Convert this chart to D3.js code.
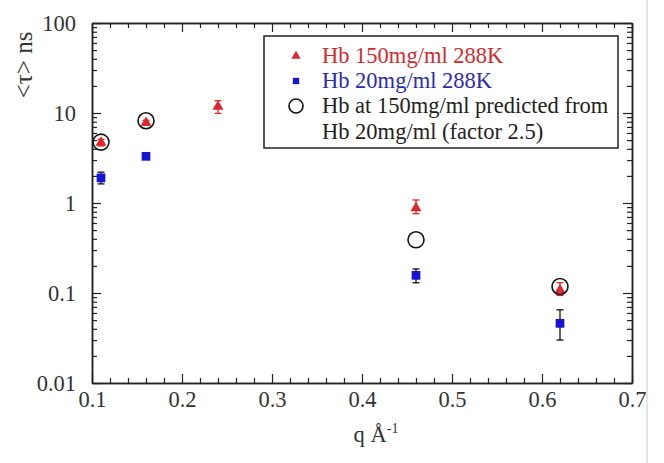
<!DOCTYPE html>
<html><head><meta charset="utf-8">
<script src="https://cdn.jsdelivr.net/npm/d3@7"></script>
<style>body{margin:0;background:#fff}</style>
</head><body>
<script>
// Data
const qRed = [0.11, 0.16, 0.24, 0.46, 0.62];
const tauRed = [4.7, 7.8, 11.8, 0.88, 0.108];
const errRedLo = [0.4, 0.5, 1.9, 0.12, 0.014];
const errRedHi = [0.4, 0.5, 1.9, 0.2, 0.022];
const qBlue = [0.11, 0.16, 0.46, 0.62];
const tauBlue = [1.9, 3.3, 0.157, 0.046];
const errBlueLo = [0.27, 0.15, 0.027, 0.016];
const errBlueHi = [0.3, 0.15, 0.028, 0.019];
const qPred = [0.11, 0.16, 0.46, 0.62];
const tauPred = [4.75, 8.2, 0.39, 0.118];
const xTicks = [0.1, 0.2, 0.3, 0.4, 0.5, 0.6, 0.7];
const yTicks = [0.01, 0.1, 1, 10, 100];
const yTickLabels = ["0.01", "0.1", "1", "10", "100"];
const legendLabels = ["Hb 150mg/ml 288K", "Hb 20mg/ml 288K", "Hb at 150mg/ml predicted from", "Hb 20mg/ml (factor 2.5)"];

const W = 664, H = 463;
const L = 92, R = 632, T = 23, B = 383;
const red = "#e0262a", blue = "#1414d2";
const font = "'Liberation Serif','Times New Roman',serif";

const svg = d3.select("body").append("svg").attr("width", W).attr("height", H)
  .style("font-family", font);

const x = d3.scaleLinear().domain([0.1, 0.7]).range([L, R]);
const y = d3.scaleLog().domain([0.01, 100]).range([B, T]);

const minorX = d3.range(0.1, 0.7001, 0.02).map(v => +v.toFixed(2)).filter(v => !xTicks.some(t => Math.abs(t - v) < 1e-6));
const minorY = [];
[0.01, 0.1, 1, 10].forEach(d => { for (let k = 2; k <= 9; k++) minorY.push(d * k); });

function styleAxis(g) {
  g.select(".domain").attr("stroke", "#222").attr("stroke-width", 1.5);
  g.selectAll(".tick line").attr("stroke", "#222").attr("stroke-width", 1.2);
  g.selectAll(".tick text").attr("fill", "#333").style("font-size", "22.5px").style("font-family", font);
}

// bottom axis
svg.append("g").attr("transform", `translate(0,${B})`)
  .call(d3.axisBottom(x).tickValues(xTicks).tickFormat(d3.format(".1f")).tickSizeInner(-9).tickSizeOuter(0).tickPadding(8))
  .call(styleAxis);
svg.append("g").attr("transform", `translate(0,${B})`)
  .call(d3.axisBottom(x).tickValues(minorX).tickFormat("").tickSizeInner(-5).tickSizeOuter(0))
  .call(styleAxis);
// top axis
svg.append("g").attr("transform", `translate(0,${T})`)
  .call(d3.axisTop(x).tickValues(xTicks).tickFormat("").tickSizeInner(-9).tickSizeOuter(0))
  .call(styleAxis);
svg.append("g").attr("transform", `translate(0,${T})`)
  .call(d3.axisTop(x).tickValues(minorX).tickFormat("").tickSizeInner(-5).tickSizeOuter(0))
  .call(styleAxis);
// left axis
svg.append("g").attr("transform", `translate(${L},0)`)
  .call(d3.axisLeft(y).tickValues(yTicks).tickFormat((d, i) => yTickLabels[i]).tickSizeInner(-9).tickSizeOuter(0).tickPadding(16))
  .call(styleAxis);
svg.append("g").attr("transform", `translate(${L},0)`)
  .call(d3.axisLeft(y).tickValues(minorY).tickFormat("").tickSizeInner(-5).tickSizeOuter(0))
  .call(styleAxis);
// right axis
svg.append("g").attr("transform", `translate(${R},0)`)
  .call(d3.axisRight(y).tickValues(yTicks).tickFormat("").tickSizeInner(-9).tickSizeOuter(0))
  .call(styleAxis);
svg.append("g").attr("transform", `translate(${R},0)`)
  .call(d3.axisRight(y).tickValues(minorY).tickFormat("").tickSizeInner(-5).tickSizeOuter(0))
  .call(styleAxis);

// faint right border of the original image
svg.append("line").attr("x1", 647).attr("x2", 647).attr("y1", 0).attr("y2", H)
  .attr("stroke", "#e4e4e4").attr("stroke-width", 2);

// axis titles
const xt = svg.append("text").attr("x", 376).attr("y", 442).attr("text-anchor", "middle")
  .style("font-size", "22.5px").attr("fill", "#333");
xt.append("tspan").text("q Å");
xt.append("tspan").attr("dy", -9).style("font-size", "14px").text("-1");

svg.append("text").attr("transform", "translate(32,65) rotate(-90)").attr("text-anchor", "middle")
  .style("font-size", "25px").attr("fill", "#333").text("<τ> ns");

function errorBars(qs, vals, lo, hi, color) {
  const g = svg.append("g").attr("stroke", color).attr("stroke-width", 1.3);
  qs.forEach((q, i) => {
    const cx = x(q), y1 = y(vals[i] + hi[i]), y2 = y(vals[i] - lo[i]);
    g.append("line").attr("x1", cx).attr("x2", cx).attr("y1", y1).attr("y2", y2);
    g.append("line").attr("x1", cx - 3.5).attr("x2", cx + 3.5).attr("y1", y1).attr("y2", y1);
    g.append("line").attr("x1", cx - 3.5).attr("x2", cx + 3.5).attr("y1", y2).attr("y2", y2);
  });
}

errorBars(qBlue, tauBlue, errBlueLo, errBlueHi, "#111");
errorBars(qRed, tauRed, errRedLo, errRedHi, red);

const tri = d3.symbol().type(d3.symbolTriangle).size(52);
const sq = d3.symbol().type(d3.symbolSquare).size(76);

svg.append("g").selectAll("path").data(qBlue).join("path")
  .attr("d", sq).attr("fill", blue)
  .attr("transform", (d, i) => `translate(${x(d)},${y(tauBlue[i])})`);
svg.append("g").selectAll("path").data(qRed).join("path")
  .attr("d", tri).attr("fill", red)
  .attr("transform", (d, i) => `translate(${x(d)},${y(tauRed[i])})`);
svg.append("g").selectAll("circle").data(qPred).join("circle")
  .attr("cx", d => x(d)).attr("cy", (d, i) => y(tauPred[i])).attr("r", 8)
  .attr("fill", "none").attr("stroke", "#111").attr("stroke-width", 1.6);

// legend
const lg = svg.append("g");
lg.append("rect").attr("x", 264).attr("y", 36).attr("width", 354).attr("height", 112)
  .attr("fill", "#fff").attr("stroke", "#222").attr("stroke-width", 1.5);
const rows = [56, 81, 106, 132];
lg.append("path").attr("d", d3.symbol().type(d3.symbolTriangle).size(36))
  .attr("transform", `translate(296,${rows[0]})`).attr("fill", red);
lg.append("path").attr("d", d3.symbol().type(d3.symbolSquare).size(40))
  .attr("transform", `translate(296,${rows[1]})`).attr("fill", blue);
lg.append("circle").attr("cx", 296).attr("cy", rows[2]).attr("r", 7)
  .attr("fill", "none").attr("stroke", "#111").attr("stroke-width", 1.6);
const colors = ["#d42a2e", "#2a2ab4", "#222", "#222"];
lg.selectAll("text").data(legendLabels).join("text")
  .attr("x", 322).attr("y", (d, i) => rows[i] + 7)
  .style("font-size", "22.5px").attr("fill", (d, i) => colors[i]).text(d => d);
</script>
</body></html>
